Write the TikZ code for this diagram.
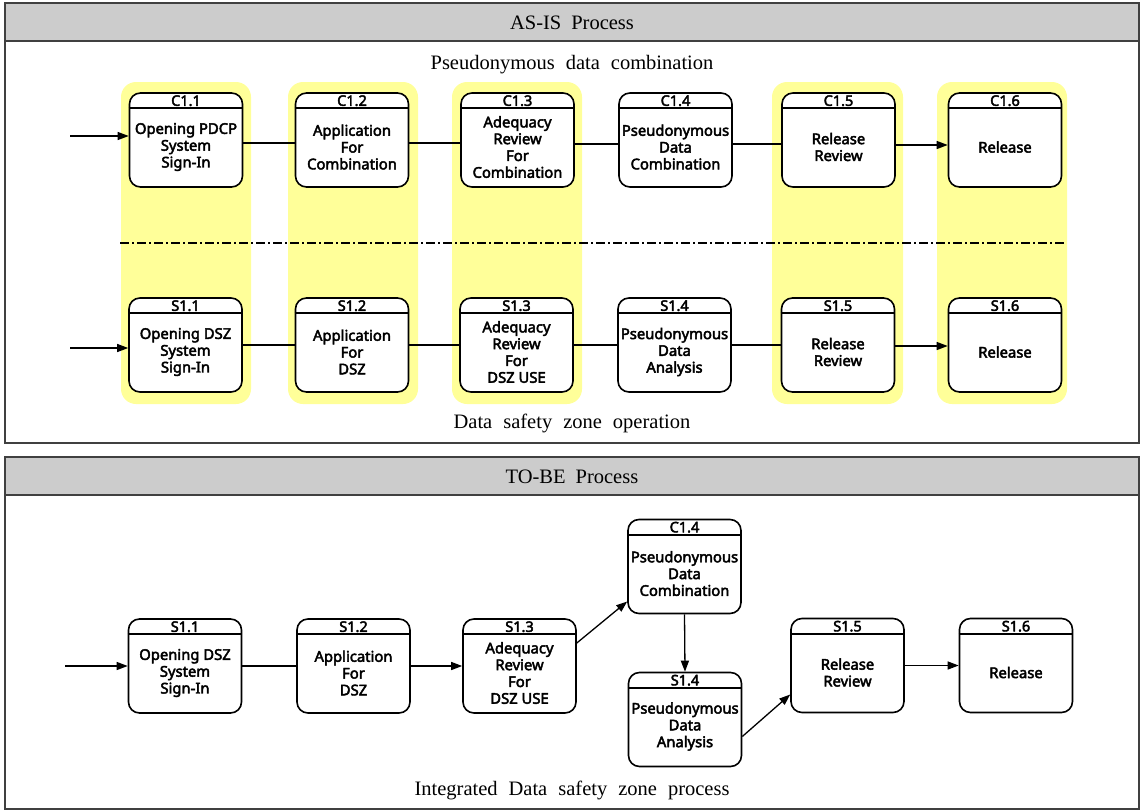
\documentclass[tikz,border=0pt]{standalone}
\usepackage{fontspec}
\setmainfont{Liberation Serif}
\newfontfamily\boxfont{Noto Sans}[AutoFakeBold=3]
\usetikzlibrary{arrows.meta,calc}

\definecolor{bandyellow}{RGB}{255,255,153}
\definecolor{headgray}{RGB}{204,204,204}
\definecolor{framegray}{RGB}{64,64,64}

\tikzset{
  proc/.style={draw=black, line width=1.6pt, fill=white, rounded corners=11pt,
    minimum width=113pt, minimum height=94pt, inner sep=0pt},
  hdr/.style={font=\boxfont\bfseries\fontsize{14.5}{15}\selectfont, inner sep=0pt},
  body/.style={font=\boxfont\bfseries\fontsize{14.8}{16.8}\selectfont, align=center, inner sep=0pt},
  band/.style={fill=bandyellow, rounded corners=15pt},
  frame/.style={draw=framegray, line width=1.4pt},
  flow/.style={line width=1.3pt},
  flowarrow/.style={line width=1.3pt, -{Triangle[length=11pt,width=8pt]}},
  title/.style={font=\fontsize{20.5}{23}\selectfont, inner sep=0pt},
}

% process box: name, centre, step code, description
\newcommand{\procbox}[4]{%
  \node[proc] (#1) at (#2) {};
  \draw[line width=1.6pt] ([yshift=-16pt]#1.north west) -- ([yshift=-16pt]#1.north east);
  \node[hdr] (#1-h) at ([yshift=-8.5pt]#1.north) {#3};
  \node[body] (#1-b) at ([yshift=-7pt]#1.center) {#4};
}

\begin{document}
\begin{tikzpicture}[x=1pt, y=-1pt]
\useasboundingbox (0,0) rectangle (1141,811);

% ---------- AS-IS panel ----------
\draw[frame] (5,3) rectangle (1139,443);
\draw[frame, fill=headgray] (5,3) rectangle (1139,41);
\node[title] (asis) at (572,22.5) {{\spaceskip=10pt AS-IS Process}};

% highlighted columns
\fill[band] (121,82) rectangle (251,404);
\fill[band] (288,82) rectangle (418,404);
\fill[band] (452,82) rectangle (582,404);
\fill[band] (772,82) rectangle (903,404);
\fill[band] (937,82) rectangle (1067,404);

\node[title] (combtitle) at (572,65) {{\spaceskip=11pt Pseudonymous data combination}};
\node[title] (dsztitle) at (572,423) {{\spaceskip=11pt Data safety zone operation}};

% separator between the two flows
\draw[line width=1.4pt, dash pattern=on 9pt off 3pt on 2pt off 3pt] (120,243) -- (1066,243);

% pseudonymous data combination flow
\procbox{C11}{186,140}{C1.1}{Opening PDCP\\System\\Sign-In}
\procbox{C12}{352,140}{C1.2}{Application\\For\\Combination}
\procbox{C13}{517.5,140}{C1.3}{Adequacy\\Review\\For\\Combination}
\procbox{C14}{675.5,140}{C1.4}{Pseudonymous\\Data\\Combination}
\procbox{C15}{838.5,140}{C1.5}{Release\\Review}
\procbox{C16}{1005,140}{C1.6}{Release}

\coordinate (inC) at (70,136);
\draw[flowarrow] (inC) -- (inC -| C11.west);
\draw[flow] ([yshift=-3pt]C11.east) -- ([yshift=-3pt]C12.west);
\draw[flow] ([yshift=-3pt]C12.east) -- ([yshift=-3pt]C13.west);
\draw[flow] ([yshift=-4pt]C13.east) -- ([yshift=-4pt]C14.west);
\draw[flow] ([yshift=-4pt]C14.east) -- ([yshift=-4pt]C15.west);
\draw[flowarrow] ([yshift=-5pt]C15.east) -- ([yshift=-5pt]C16.west);

% data safety zone flow
\procbox{S11}{185.5,345}{S1.1}{Opening DSZ\\System\\Sign-In}
\procbox{S12}{352,345}{S1.2}{Application\\For\\DSZ}
\procbox{S13}{516.5,345}{S1.3}{Adequacy\\Review\\For\\DSZ USE}
\procbox{S14}{674.5,345}{S1.4}{Pseudonymous\\Data\\Analysis}
\procbox{S15}{838,345}{S1.5}{Release\\Review}
\procbox{S16}{1005,345}{S1.6}{Release}

\coordinate (inS) at (70,348);
\draw[flowarrow] (inS) -- (inS -| S11.west);
\draw[flow] (S11.east) -- (S12.west);
\draw[flow] (S12.east) -- (S13.west);
\draw[flow] (S13.east) -- (S14.west);
\draw[flow] (S14.east) -- (S15.west);
\draw[flowarrow] ([yshift=-1pt]S15.east) -- ([yshift=-1pt]S16.west);

% ---------- TO-BE panel ----------
\draw[frame] (5,457) rectangle (1139,809);
\draw[frame, fill=headgray] (5,457) rectangle (1139,495);
\node[title] (tobe) at (572,477) {{\spaceskip=10pt TO-BE Process}};
\node[title] (inttitle) at (572,790) {{\spaceskip=11pt Integrated Data safety zone process}};

\procbox{T11}{185,666}{S1.1}{Opening DSZ\\System\\Sign-In}
\procbox{T12}{353.5,666}{S1.2}{Application\\For\\DSZ}
\procbox{T13}{519.5,666}{S1.3}{Adequacy\\Review\\For\\DSZ USE}
\procbox{T14c}{684.5,566.5}{C1.4}{Pseudonymous\\Data\\Combination}
\procbox{T14s}{685,719.5}{S1.4}{Pseudonymous\\Data\\Analysis}
\procbox{T15}{847.5,665.5}{S1.5}{Release\\Review}
\procbox{T16}{1016,665.5}{S1.6}{Release}

\coordinate (inT) at (65,666);
\draw[flowarrow] (inT) -- (inT -| T11.west);
\draw[flow] (T11.east) -- (T12.west);
\draw[flowarrow] (T12.east) -- (T13.west);
\draw[flowarrow] ([yshift=23pt]T13.east) -- ([yshift=-35pt]T14c.west);
\draw[flowarrow] (T14c.south) -- (T14s.north);
\draw[flowarrow] ([yshift=-17pt]T14s.east) -- ([yshift=-29pt]T15.west);
\draw[flowarrow] (T15.east) -- (T16.west);
\end{tikzpicture}
\end{document}
